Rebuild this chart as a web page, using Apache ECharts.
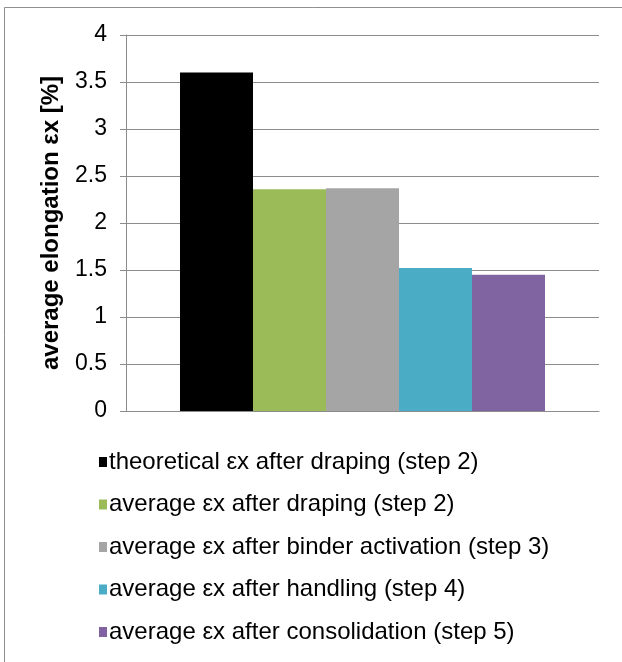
<!DOCTYPE html>
<html>
<head>
<meta charset="utf-8">
<script src="https://cdn.jsdelivr.net/npm/echarts@6/dist/echarts.min.js"></script>
<style>
  html, body { margin: 0; padding: 0; background: #fff; }
  #chart { width: 622px; height: 662px; }
</style>
</head>
<body>
<div id="chart"></div>
<script>
// Average elongation per process step
const categories = [''];
const seriesNames = [
  'theoretical εx after draping (step 2)',
  'average εx after draping (step 2)',
  'average εx after binder activation (step 3)',
  'average εx after handling (step 4)',
  'average εx after consolidation (step 5)'
];
const seriesValues = [3.60, 2.36, 2.37, 1.52, 1.45];
const seriesColors = ['#000000', '#9BBB59', '#A5A5A5', '#4BACC6', '#8064A2'];
const yTicks = { min: 0, max: 4, interval: 0.5 };

const font = 'Liberation Sans, Arial, sans-serif';
const chart = echarts.init(document.getElementById('chart'), null, { renderer: 'canvas' });

chart.setOption({
  animation: false,
  backgroundColor: '#ffffff',
  textStyle: { fontFamily: font },
  graphic: [{
    type: 'rect',
    shape: { x: 4.5, y: 7.5, width: 700, height: 700 },
    style: { fill: 'none', stroke: '#8f8f8f', lineWidth: 1 },
    silent: true
  }],
  grid: { left: 126, right: 23, top: 35, bottom: 251, containLabel: false },
  legend: {
    orient: 'vertical',
    left: 94,
    top: 445,
    itemWidth: 8,
    itemHeight: 10,
    itemGap: 18.5,
    icon: 'rect',
    textStyle: { fontSize: 24, color: '#000', fontFamily: font, padding: [0, 0, 0, -3] },
    data: seriesNames
  },
  xAxis: {
    type: 'category',
    data: categories,
    axisLine: { show: true, lineStyle: { color: '#8c8c8c', width: 1 } },
    axisTick: { show: false },
    axisLabel: { show: false }
  },
  yAxis: {
    type: 'value',
    min: yTicks.min,
    max: yTicks.max,
    interval: yTicks.interval,
    name: 'average elongation εx [%]',
    nameLocation: 'middle',
    nameRotate: 90,
    nameGap: 63,
    nameTextStyle: { fontSize: 24, fontWeight: 'bold', color: '#000', fontFamily: font },
    axisLine: { show: true, lineStyle: { color: '#8c8c8c', width: 1 } },
    axisTick: { show: true, length: 6, lineStyle: { color: '#8c8c8c' } },
    axisLabel: { fontSize: 23, color: '#000', margin: 19, fontFamily: font },
    splitLine: { show: true, lineStyle: { color: '#8c8c8c', width: 1 } }
  },
  series: seriesNames.map((name, i) => ({
    type: 'bar',
    name: name,
    data: [seriesValues[i]],
    barWidth: 73,
    barGap: '0%',
    itemStyle: { color: seriesColors[i] }
  }))
});
</script>
</body>
</html>
